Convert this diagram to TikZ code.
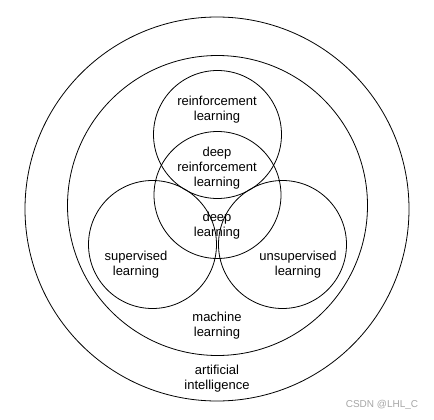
\documentclass[tikz,border=0pt]{standalone}
\usepackage{fontspec}
\setmainfont{Liberation Sans}
\usepackage{tikz}
\usetikzlibrary{positioning}

\tikzset{
    ring/.style={draw, circle, line width=0.8pt, inner sep=0pt},
    label/.style={align=center, inner sep=0pt, font=\fontsize{13}{15}\selectfont}
}

\begin{document}
\begin{tikzpicture}[x=1pt, y=-1pt]
\useasboundingbox (0, 0) rectangle (434, 420);

\node[ring, minimum size=384pt] (ai) at (217, 209) {};
\node[ring, minimum size=300pt] (ml) at (217.5, 205.5) {};

\node[ring, minimum size=128pt] (rl) at (217.5, 134.5) {};
\node[ring, minimum size=127pt] (dl) at (217.5, 195) {};
\node[ring, minimum size=128pt] (sl) at (152.5, 244.5) {};
\node[ring, minimum size=128pt] (ul) at (282.5, 244.5) {};

\node[label] (rltext) at (217, 110) {reinforcement\\learning};
\node[label] (drltext) at (217, 168) {deep\\reinforcement\\learning};
\node[label] (dltext) at (217, 226) {deep\\learning};
\node[label] (sltext) at (136, 264.5) {supervised\\learning};
\node[label] (ultext) at (298, 264.5) {unsupervised\\learning};
\node[label] (mltext) at (217, 325.5) {machine\\learning};
\node[label] (aitext) at (217, 379) {artificial\\intelligence};

\node[font=\fontsize{10}{12}\selectfont, text=black!35, inner sep=0pt] (mark) at (382, 405) {CSDN @LHL\_C};
\end{tikzpicture}
\end{document}
